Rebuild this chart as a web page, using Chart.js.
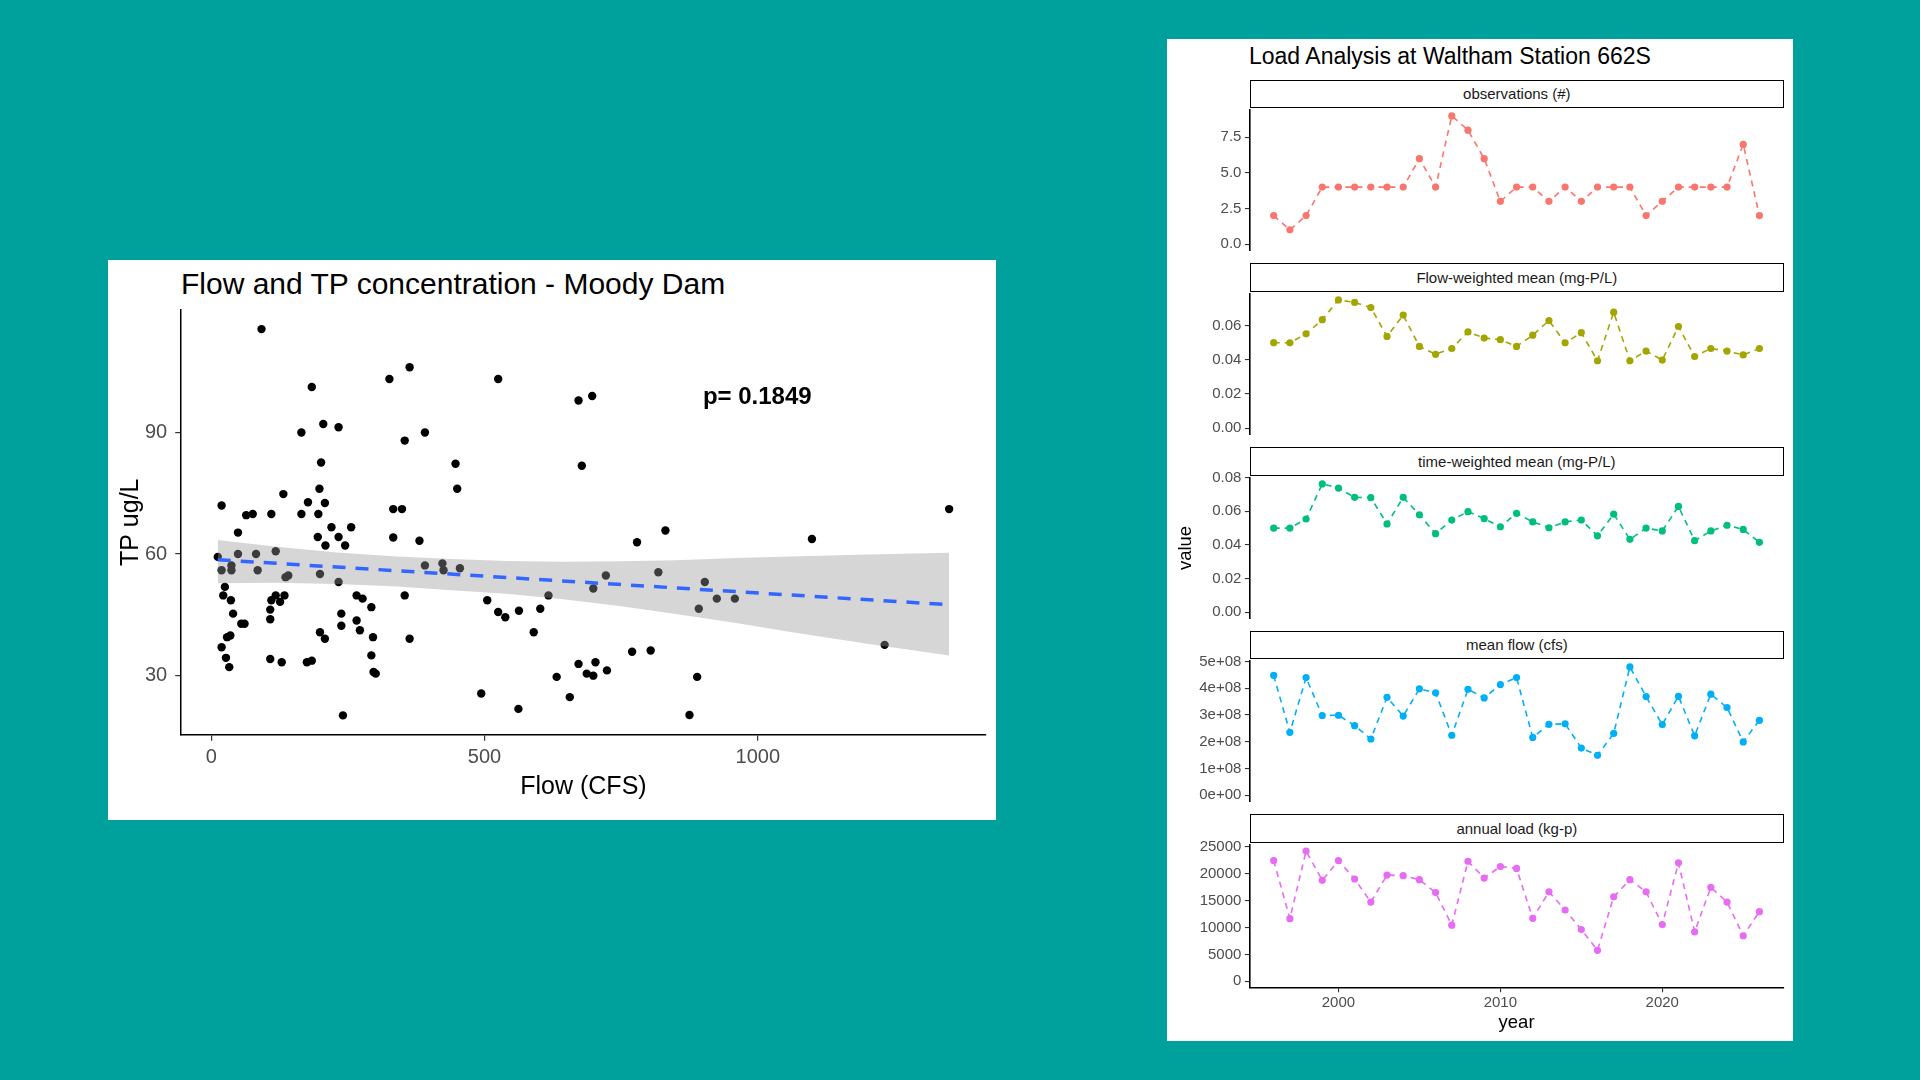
<!DOCTYPE html>
<html>
<head>
<meta charset="utf-8">
<script src="https://cdn.jsdelivr.net/npm/chart.js@4.4.1/dist/chart.umd.min.js"></script>
<style>
html,body{margin:0;padding:0;}
body{width:1920px;height:1080px;background:#00A19D;position:relative;overflow:hidden;font-family:"Liberation Sans",Arial,Helvetica,sans-serif;}
.box{position:absolute;background:#fff;}
.txt{position:absolute;white-space:nowrap;line-height:1;color:#000;}
.strip{position:absolute;box-sizing:border-box;border:1.5px solid #000;background:#fff;font-size:15px;color:#1a1a1a;display:flex;align-items:center;justify-content:center;}
canvas{position:absolute;}
</style>
</head>
<body>
<div class="box" style="left:108px;top:260px;width:888px;height:560px;"></div>
<div class="box" style="left:1167px;top:39px;width:626px;height:1002px;"></div>
<div class="txt" style="left:181px;top:269px;font-size:30px;">Flow and TP concentration - Moody Dam</div>
<div class="txt" style="left:1249px;top:45px;font-size:23px;">Load Analysis at Waltham Station 662S</div>

<script>
// ---------------- LEFT CHART DATA ----------------
const scatterFlow = [
  92, 363, 326, 525, 184, 697, 672, 205, 233, 165,
  391, 354, 201, 447, 678, 198, 450, 132, 177, 208,
  19, 333, 349, 1350, 64, 76, 110, 165, 196, 220,
  256, 831, 49, 195, 233, 333, 1099, 381, 779, 209,
  245, 118, 49, 82, 12, 423, 391, 37, 19, 37,
  85, 425, 455, 199, 818, 722, 141, 136, 233, 903,
  25, 699, 22, 266, 354, 617, 118, 134, 277, 110,
  126, 36, 925, 958, 505, 293, 892, 602, 108, 525,
  563, 538, 40, 238, 108, 266, 55, 61, 238, 272,
  590, 199, 35, 29, 208, 296, 363, 19, 1232, 770,
  804, 293, 27, 108, 129, 175, 184, 672, 703, 33,
  724, 297, 301, 687, 699, 632, 889, 494, 656, 562,
  241, 875
];
const scatterTP = [
  115.5, 106.1, 103.2, 103.2, 101.2, 99.0, 97.9, 92.1, 91.3, 90.0,
  90.0, 88.0, 82.6, 82.3, 81.8, 76.1, 76.1, 74.8, 72.8, 72.6,
  72.0, 71.1, 71.1, 71.1, 69.6, 69.9, 69.9, 69.9, 69.9, 66.6,
  66.6, 65.8, 65.3, 64.2, 64.2, 64.1, 63.7, 63.3, 62.9, 62.1,
  62.1, 60.7, 60.0, 60.0, 59.3, 57.7, 57.2, 57.2, 56.0, 56.0,
  56.0, 56.0, 56.5, 55.1, 55.5, 54.7, 54.7, 54.3, 53.1, 53.1,
  51.9, 51.5, 49.8, 49.8, 49.8, 49.8, 49.8, 49.8, 49.0, 48.6,
  48.2, 48.6, 49.0, 49.0, 48.6, 46.9, 46.5, 46.5, 46.3, 45.7,
  46.0, 44.4, 45.3, 45.3, 43.9, 43.6, 42.8, 42.8, 42.3, 41.2,
  40.7, 40.7, 39.9, 39.5, 39.1, 39.5, 39.1, 37.0, 37.6, 35.9,
  36.2, 35.0, 34.4, 34.1, 33.3, 33.3, 33.7, 32.9, 33.3, 32.1,
  31.3, 30.9, 30.5, 30.5, 30.0, 29.7, 29.7, 25.6, 24.7, 21.8,
  20.2, 20.3
];
const fitFlow = [12, 1350];
const fitTP = [58.6, 47.5];
const bandFlow  = [12, 120, 230, 340, 440, 540, 640, 750, 850, 960, 1060, 1200, 1350];
const bandUpper = [63.5, 61.8, 60.4, 59.4, 58.8, 58.3, 58.1, 58.2, 58.5, 59.0, 59.4, 59.9, 60.3];
const bandLower = [52.8, 52.9, 52.6, 52.0, 51.1, 50.2, 48.9, 47.1, 45.2, 43.0, 40.8, 37.9, 35.0];
const flowTickValues = [0, 500, 1000];
const tpTickValues = [30, 60, 90];
const pLabel = 'p= 0.1849';
const pAtFlow = 999;
const pAtTP = 98.6;

// ---------------- RIGHT CHART DATA ----------------
const years = [1996,1997,1998,1999,2000,2001,2002,2003,2004,2005,2006,2007,2008,2009,2010,2011,2012,2013,2014,2015,2016,2017,2018,2019,2020,2021,2022,2023,2024,2025,2026];
const observations = [2,1,2,4,4,4,4,4,4,6,4,9,8,6,3,4,4,3,4,3,4,4,4,2,3,4,4,4,4,7,2];
const flowWeightedMean = [0.0501,0.0500,0.0553,0.0636,0.0752,0.0737,0.0707,0.0538,0.0663,0.0479,0.0433,0.0467,0.0564,0.0528,0.0519,0.0479,0.0545,0.0631,0.0500,0.0560,0.0395,0.0680,0.0395,0.0452,0.0399,0.0596,0.0420,0.0467,0.0452,0.0429,0.0467];
const timeWeightedMean = [0.0500,0.0500,0.0554,0.0763,0.0738,0.0683,0.0681,0.0525,0.0683,0.0579,0.0467,0.0548,0.0598,0.0556,0.0508,0.0588,0.0537,0.0502,0.0537,0.0548,0.0454,0.0583,0.0433,0.0500,0.0483,0.0629,0.0425,0.0483,0.0517,0.0492,0.0415];
const meanFlow = [448e6,235e6,440e6,298e6,299e6,260e6,210e6,366e6,296e6,398e6,383e6,224e6,396e6,364e6,414e6,440e6,216e6,265e6,267e6,176e6,149e6,231e6,480e6,369e6,264e6,370e6,222e6,378e6,328e6,199e6,280e6];
const annualLoad = [22430,11640,24200,18750,22430,19000,14710,19730,19610,18870,16480,10420,22300,19180,21320,20960,11700,16610,13240,9620,5760,15690,18870,16610,10540,22000,9190,17460,14710,8460,12930];
const yearTickValues = [2000, 2010, 2020];
const facetLabels = ['observations (#)', 'Flow-weighted mean (mg-P/L)', 'time-weighted mean (mg-P/L)', 'mean flow (cfs)', 'annual load (kg-p)'];
const obsTickValues = [0, 2.5, 5, 7.5];
const fwmTickValues = [0, 0.02, 0.04, 0.06];
const twmTickValues = [0, 0.02, 0.04, 0.06, 0.08];
const flowTickValuesR = [0, 1e8, 2e8, 3e8, 4e8, 5e8];
const loadTickValues = [0, 5000, 10000, 15000, 20000, 25000];

// ---------------- RENDERING ----------------
const FONT = '"Liberation Sans", Arial, Helvetica, sans-serif';
Chart.defaults.font.family = FONT;

function fixedTicks(values) { return function (scale) { scale.ticks = values.map(v => ({ value: v })); }; }
function expandRange(vals, includeZero) {
  let lo = Math.min(...vals), hi = Math.max(...vals);
  if (includeZero) lo = Math.min(0, lo);
  const pad = 0.05 * (hi - lo);
  return { min: lo - pad, max: hi + pad };
}
function addCanvas(left, top, w, h) {
  const c = document.createElement('canvas');
  c.width = w; c.height = h;
  c.style.left = left + 'px'; c.style.top = top + 'px';
  c.style.width = w + 'px'; c.style.height = h + 'px';
  document.body.appendChild(c);
  return c;
}

// ---- Left scatter chart ----
const pValuePlugin = {
  id: 'pValue',
  afterDatasetsDraw(chart) {
    const { ctx, scales } = chart;
    ctx.save();
    ctx.font = 'bold 24px ' + FONT;
    ctx.fillStyle = '#000';
    ctx.textAlign = 'center';
    ctx.textBaseline = 'middle';
    ctx.fillText(pLabel, scales.x.getPixelForValue(pAtFlow), scales.y.getPixelForValue(pAtTP));
    ctx.restore();
  }
};

const xr = expandRange(scatterFlow, false);
const yr = expandRange(scatterTP, false);
const leftCanvas = addCanvas(108, 260, 888, 560);
new Chart(leftCanvas, {
  type: 'scatter',
  data: {
    datasets: [
      { type: 'line', data: fitFlow.map((x, i) => ({ x, y: fitTP[i] })), borderColor: '#3366FF', borderWidth: 3.5, borderDash: [13, 10], pointRadius: 0, fill: false, order: 0 },
      { type: 'line', data: bandFlow.map((x, i) => ({ x, y: bandLower[i] })), borderColor: 'rgba(0,0,0,0)', borderWidth: 0, pointRadius: 0, fill: false, order: 1 },
      { type: 'line', data: bandFlow.map((x, i) => ({ x, y: bandUpper[i] })), borderColor: 'rgba(0,0,0,0)', borderWidth: 0, pointRadius: 0, fill: 1, backgroundColor: 'rgba(153,153,153,0.4)', order: 1 },
      { type: 'scatter', data: scatterFlow.map((x, i) => ({ x, y: scatterTP[i] })), backgroundColor: '#000', borderWidth: 0, pointRadius: 4.2, order: 2 }
    ]
  },
  options: {
    responsive: false, animation: false,
    layout: { padding: { left: 0, right: 10.3, top: 49.8, bottom: 0 } },
    plugins: { legend: { display: false }, tooltip: { enabled: false } },
    scales: {
      x: {
        type: 'linear', min: xr.min, max: xr.max,
        afterBuildTicks: fixedTicks(flowTickValues),
        afterFit: s => { s.height = 85.3; },
        grid: { display: true, drawOnChartArea: false, drawTicks: true, tickLength: 6, color: '#333', lineWidth: 1.2 },
        border: { display: true, color: '#000', width: 1.5 },
        ticks: { font: { size: 20 }, color: '#4d4d4d', padding: 5, maxRotation: 0, autoSkip: false, callback: v => String(v) },
        title: { display: true, text: 'Flow (CFS)', font: { size: 25 }, color: '#000', padding: { top: 0, bottom: 17.5 } }
      },
      y: {
        type: 'linear', min: yr.min, max: yr.max,
        afterBuildTicks: fixedTicks(tpTickValues),
        afterFit: s => { s.width = 73.2; },
        grid: { display: true, drawOnChartArea: false, drawTicks: true, tickLength: 6, color: '#333', lineWidth: 1.2 },
        border: { display: true, color: '#000', width: 1.5 },
        ticks: { font: { size: 20 }, color: '#4d4d4d', padding: 8, autoSkip: false, callback: v => String(v) },
        title: { display: true, text: 'TP ug/L', font: { size: 25 }, color: '#000', padding: { top: 8.5, bottom: 0 } }
      }
    }
  },
  plugins: [pValuePlugin]
});

// ---- Right faceted charts ----
function sci(v) {
  if (v === 0) return '0e+00';
  const e = Math.floor(Math.log10(Math.abs(v)));
  const m = v / Math.pow(10, e);
  return Math.round(m) + 'e+' + String(e).padStart(2, '0');
}
const panels = [
  { values: observations, color: '#F8766D', ticks: obsTickValues, fmt: v => v.toFixed(1) },
  { values: flowWeightedMean, color: '#A3A500', ticks: fwmTickValues, fmt: v => v.toFixed(2) },
  { values: timeWeightedMean, color: '#00BF7D', ticks: twmTickValues, fmt: v => v.toFixed(2), title: 'value' },
  { values: meanFlow, color: '#00B0F6', ticks: flowTickValuesR, fmt: sci },
  { values: annualLoad, color: '#E76BF3', ticks: loadTickValues, fmt: v => String(v) }
];
const panelTops = [107.2, 290.9, 474.6, 658.3, 842.0];
const panelH = 145.8;
const RL = 1167, RW = 626, PLOT_L = 1249.4, PLOT_R = 1783.7, R_BOTTOM = 1041;
const yearRange = expandRange(years, false);

panels.forEach((p, i) => {
  const T = panelTops[i];
  const last = i === panels.length - 1;
  const s = document.createElement('div');
  s.className = 'strip';
  s.style.left = (PLOT_L + 0.3) + 'px';
  s.style.width = (PLOT_R - PLOT_L) + 'px';
  s.style.top = (T - 27.6) + 'px';
  s.style.height = '28.6px';
  s.textContent = facetLabels[i];
  document.body.appendChild(s);

  const ctop = T - 10;
  const ch = last ? Math.round(R_BOTTOM - ctop) : Math.round(panelH + 20);
  const cv = addCanvas(RL, ctop, RW, ch);
  const yrng = expandRange(p.values, true);
  new Chart(cv, {
    type: 'scatter',
    data: {
      datasets: [{
        data: years.map((x, k) => ({ x, y: p.values[k] })),
        showLine: true, borderColor: p.color, borderWidth: 1.6, borderDash: [6, 5],
        backgroundColor: p.color, pointRadius: 3.6, pointBorderWidth: 0
      }]
    },
    options: {
      responsive: false, animation: false,
      layout: { padding: { left: 0, right: RL + RW - PLOT_R, top: 10, bottom: last ? 0 : (ch - 10 - panelH) } },
      plugins: { legend: { display: false }, tooltip: { enabled: false } },
      scales: {
        x: {
          type: 'linear', min: yearRange.min, max: yearRange.max, display: last,
          afterBuildTicks: fixedTicks(yearTickValues),
          afterFit: sc => { if (last) sc.height = R_BOTTOM - (T + panelH); },
          grid: { display: true, drawOnChartArea: false, drawTicks: true, tickLength: 4.5, color: '#333', lineWidth: 1.1 },
          border: { display: true, color: '#000', width: 1.6 },
          ticks: { font: { size: 15 }, color: '#4d4d4d', padding: 2, maxRotation: 0, autoSkip: false, callback: v => String(v) },
          title: { display: last, text: 'year', font: { size: 18.5 }, color: '#000', padding: { top: 0, bottom: 6.6 } }
        },
        y: {
          type: 'linear', min: yrng.min, max: yrng.max,
          afterBuildTicks: fixedTicks(p.ticks),
          afterFit: sc => { sc.width = PLOT_L - RL; },
          grid: { display: true, drawOnChartArea: false, drawTicks: true, tickLength: 4.5, color: '#333', lineWidth: 1.1 },
          border: { display: true, color: '#000', width: 1.6 },
          ticks: { font: { size: 15 }, color: '#4d4d4d', padding: 3.5, autoSkip: false, callback: v => p.fmt(v) },
          title: { display: !!p.title, text: p.title || '', font: { size: 18.5 }, color: '#000', padding: { top: 8.2, bottom: 0 } }
        }
      }
    }
  });
});
</script>
</body>
</html>
